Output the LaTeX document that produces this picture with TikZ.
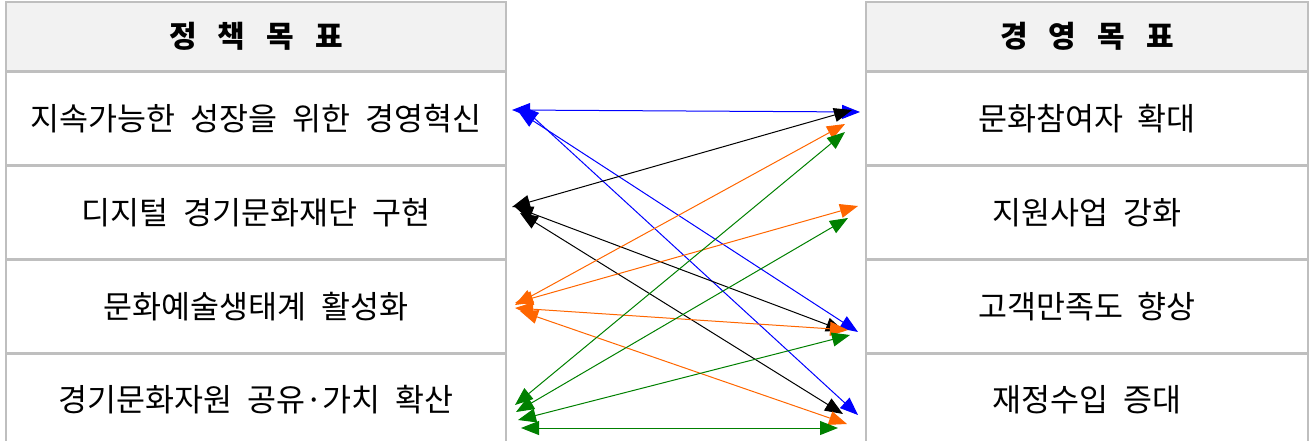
\documentclass[tikz,border=0pt]{standalone}
\usepackage{fontspec}
\setmainfont{Noto Sans CJK KR}
\usetikzlibrary{arrows.meta,positioning}
\definecolor{gridgray}{RGB}{191,191,191}
\definecolor{headfill}{RGB}{242,242,242}
\definecolor{linkorange}{RGB}{255,102,0}
\definecolor{linkgreen}{RGB}{0,128,0}

\begin{document}
\begin{tikzpicture}[x=1pt, y=-1pt,
    cell/.style = {draw=gridgray, line width=1.5pt, inner sep=0pt, minimum height=92.25pt,
                   font={\fontsize{31.5}{36}\selectfont\spaceskip=15pt\relax}},
    head/.style = {cell, fill=headfill, minimum height=69pt,
                   font={\fontsize{30}{34}\selectfont\bfseries\spaceskip=21pt\relax}},
    link/.style = {line width=1pt, >={Triangle[length=18pt,width=14pt]}, <->}]

    \useasboundingbox (0,0) rectangle (1313,441);

    % policy goals
    \node[head, minimum width=500pt] (p0) at (256,36.5) {정 책 목 표};
    \node[cell, minimum width=500pt] (p1) [below=0pt of p0] {지속가능한 성장을 위한 경영혁신};
    \node[cell, minimum width=500pt] (p2) [below=0pt of p1] {디지털 경기문화재단 구현};
    \node[cell, minimum width=500pt] (p3) [below=0pt of p2] {문화예술생태계 활성화};
    \node[cell, minimum width=500pt] (p4) [below=0pt of p3] {경기문화자원 공유·가치 확산};

    % management goals
    \node[head, minimum width=442pt] (m0) at (1087,36.5) {경 영 목 표};
    \node[cell, minimum width=442pt] (m1) [below=0pt of m0] {문화참여자 확대};
    \node[cell, minimum width=442pt] (m2) [below=0pt of m1] {지원사업 강화};
    \node[cell, minimum width=442pt] (m3) [below=0pt of m2] {고객만족도 향상};
    \node[cell, minimum width=442pt] (m4) [below=0pt of m3] {재정수입 증대};

    % arrow ends
    \coordinate (pb1) at (512,110);  \coordinate (mb1) at (860,112);
    \coordinate (pb3) at (518,111);  \coordinate (mb3) at (858,332);
    \coordinate (pb4) at (521,106);  \coordinate (mb4) at (858,415);
    \coordinate (pk1) at (512,207);  \coordinate (mk1) at (852,110);
    \coordinate (pk3) at (515,207);  \coordinate (mk3) at (844,331);
    \coordinate (pk4) at (520,213);  \coordinate (mk4) at (843,414);
    \coordinate (po1) at (515,305);  \coordinate (mo1) at (845,124);
    \coordinate (po2) at (515,303);  \coordinate (mo2) at (858,206);
    \coordinate (po3) at (515,308);  \coordinate (mo3) at (848,330);
    \coordinate (po4) at (520,311);  \coordinate (mo4) at (847,424);
    \coordinate (pg1) at (515,405);  \coordinate (mg1) at (845,132);
    \coordinate (pg2) at (516,412);  \coordinate (mg2) at (848,218);
    \coordinate (pg3) at (518,420);  \coordinate (mg3) at (850,335);
    \coordinate (pg4) at (521,428);  \coordinate (mg4) at (838,428);

    \draw[link, blue] (pb1) -- (mb1);
    \draw[link, blue] (pb3) -- (mb3);
    \draw[link, blue] (pb4) -- (mb4);

    \draw[link, black] (pk1) -- (mk1);
    \draw[link, black] (pk3) -- (mk3);
    \draw[link, black] (pk4) -- (mk4);

    \draw[link, linkorange] (po1) -- (mo1);
    \draw[link, linkorange] (po2) -- (mo2);
    \draw[link, linkorange] (po3) -- (mo3);
    \draw[link, linkorange] (po4) -- (mo4);

    \draw[link, linkgreen] (pg1) -- (mg1);
    \draw[link, linkgreen] (pg2) -- (mg2);
    \draw[link, linkgreen] (pg3) -- (mg3);
    \draw[link, linkgreen] (pg4) -- (mg4);

\end{tikzpicture}
\end{document}
